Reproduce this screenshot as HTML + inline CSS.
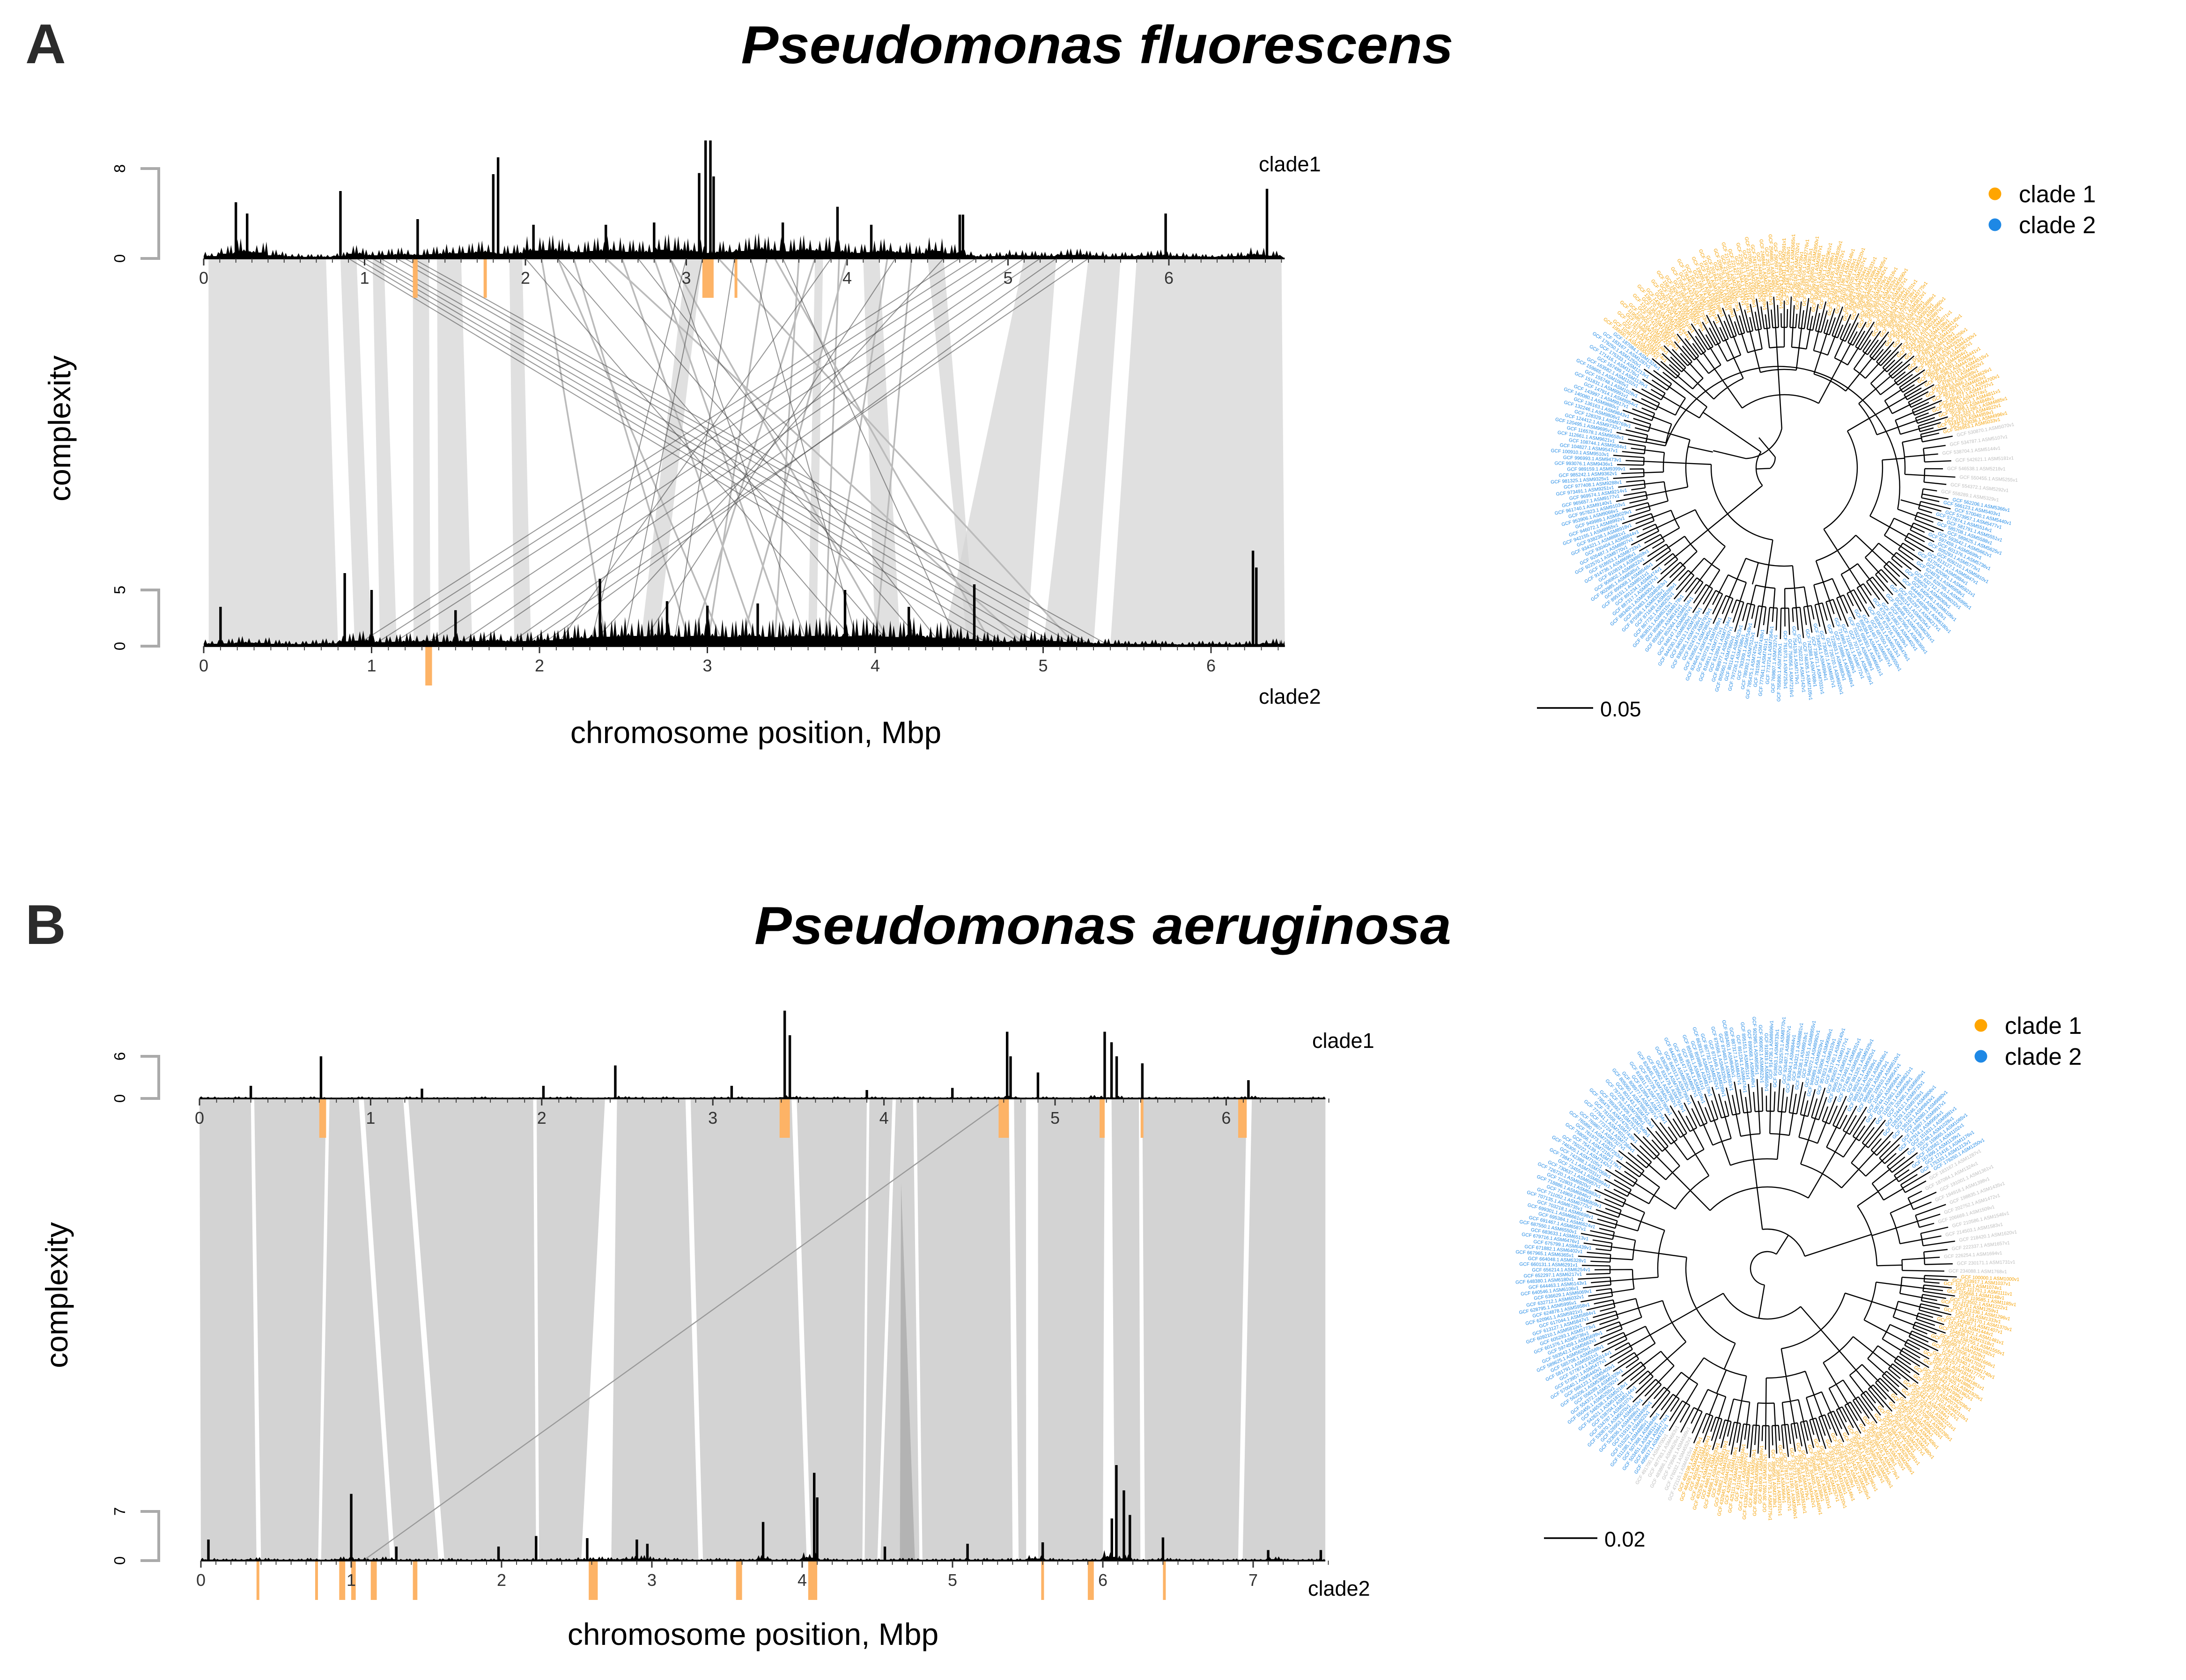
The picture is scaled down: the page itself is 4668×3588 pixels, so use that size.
<!DOCTYPE html>
<html><head><meta charset="utf-8"><style>
html,body{margin:0;padding:0;background:#fff}
svg{display:block}
text{font-family:"Liberation Sans",sans-serif}
</style></head><body>
<svg id="fig" xmlns="http://www.w3.org/2000/svg" width="4668" height="3588" viewBox="0 0 1556 1196">
<rect width="1556" height="1196" fill="#fff"/>
<text x="18" y="45" font-size="40" font-weight="bold" fill="#2b2b2b">A</text>
<text x="781" y="45" font-size="38" font-weight="bold" font-style="italic" text-anchor="middle" textLength="507" lengthAdjust="spacingAndGlyphs">Pseudomonas fluorescens</text>
<text x="18" y="672" font-size="40" font-weight="bold" fill="#2b2b2b">B</text>
<text x="785" y="672" font-size="38" font-weight="bold" font-style="italic" text-anchor="middle" textLength="496" lengthAdjust="spacingAndGlyphs">Pseudomonas aeruginosa</text>
<text transform="translate(50,305) rotate(-90)" font-size="22" text-anchor="middle">complexity</text>
<text x="538" y="529" font-size="22" text-anchor="middle">chromosome position, Mbp</text>
<text transform="translate(48,922) rotate(-90)" font-size="22" text-anchor="middle">complexity</text>
<text x="536" y="1171" font-size="22" text-anchor="middle">chromosome position, Mbp</text>
<text x="896" y="122" font-size="15">clade1</text>
<text x="896" y="501" font-size="15">clade2</text>
<text x="934" y="746" font-size="15">clade1</text>
<text x="931" y="1136" font-size="15">clade2</text>
<g id="links"></g><g id="tracks"></g><g id="trees"></g>
<g>
<circle cx="1420" cy="138" r="4.5" fill="#FFA500"/><text x="1437" y="144" font-size="17">clade 1</text>
<circle cx="1420" cy="160" r="4.5" fill="#1E88E5"/><text x="1437" y="166" font-size="17">clade 2</text></g>
<g>
<circle cx="1410" cy="730" r="4.5" fill="#FFA500"/><text x="1427" y="736" font-size="17">clade 1</text>
<circle cx="1410" cy="752" r="4.5" fill="#1E88E5"/><text x="1427" y="758" font-size="17">clade 2</text></g>
<g><line x1="1094" y1="504" x2="1134" y2="504" stroke="#000" stroke-width="1.2"/><text x="1139" y="510" font-size="15">0.05</text></g>
<g><line x1="1099" y1="1095" x2="1137" y2="1095" stroke="#000" stroke-width="1.2"/><text x="1142" y="1101" font-size="15">0.02</text></g>
</svg>
<script>
// ---------- data ----------
const aTopBg=[0.6,1.2,1.8,1.5,0.8,0.5,0.4,0.4,0.6,1.2,0.8,0.9,1.0,0.9,1.1,1.3,1.4,1.6,1.2,1.3,2.0,2.1,1.8,1.6,1.9,2.0,1.7,1.6,2.2,2.0,1.8,1.4,1.6,1.9,2.3,2.0,1.8,2.1,2.0,1.7,1.4,1.6,1.8,1.5,1.2,1.9,1.3,0.8,0.5,0.6,0.8,0.7,0.6,0.9,0.9,0.7,0.5,0.6,0.7,0.8,0.6,0.5,0.4,0.5,0.6,1.0,0.7];
const aTopPk=[[0.2,5],[0.27,4],[0.85,6],[1.33,3.5],[1.8,7.5],[1.83,9],[3.08,7.6],[3.12,10.5],[3.15,10.5],[3.17,7.3],[3.94,4.6],[4.7,3.9],[4.72,3.9],[5.98,4],[6.61,6.2],[2.05,3],[2.5,3],[2.8,3.2],[3.6,3.2],[4.15,3]];
const aBotBg=[0.6,0.7,0.9,0.8,0.6,0.5,0.6,0.7,1.2,1.4,1.0,1.1,1.2,1.3,1.1,1.2,1.3,1.4,1.2,1.3,1.5,1.8,2.0,2.3,2.4,2.6,2.5,2.7,2.4,2.6,2.5,2.3,2.6,2.4,2.3,2.5,2.6,2.4,2.5,2.7,2.4,2.3,2.6,2.2,2.0,1.8,1.3,1.1,1.2,1.4,1.3,1.1,0.9,0.7,0.6,0.5,0.6,0.5,0.4,0.5,0.5,0.4,0.5,0.7,0.6];
const aBotPk=[[0.84,6.5],[1.0,5],[0.1,3.5],[2.36,6],[2.76,4],[3.82,5],[4.59,5.5],[6.25,8.5],[6.27,7],[3.0,3.6],[3.3,3.8],[4.2,3.5],[1.5,3.2]];
const bTopBg=[0.3,0.2,0.3,0.2,0.2,0.2,0.3,0.2,0.2,0.3,0.2,0.2,0.3,0.2,0.2,0.2,0.3,0.2,0.2,0.2,0.3,0.3,0.2,0.2,0.4,0.3,0.2,0.3,0.2,0.2,0.3,0.3,0.2,0.2,0.5,0.3,0.2,0.3,0.2,0.3,0.2,0.2,0.3,0.2,0.2,0.3,0.3,0.4,0.2,0.3,0.2,0.2,0.5,0.4,0.2,0.3,0.2,0.2,0.2,0.3,0.3,0.4,0.2,0.2,0.2,0.3];
const bTopPk=[[0.3,1.8],[0.71,6],[1.3,1.4],[2.01,1.8],[2.43,4.7],[3.11,1.8],[3.42,12.5],[3.45,9],[3.9,1.2],[4.72,9.5],[4.74,6],[4.9,3.7],[5.29,9.5],[5.33,8],[5.36,6],[5.51,5],[6.13,2.6],[4.4,1.5]];
const bBotBg=[0.4,0.3,0.3,0.5,0.4,0.3,0.3,0.4,0.3,0.6,0.5,0.4,0.6,0.3,0.3,0.3,0.4,0.3,0.3,0.3,0.3,0.3,0.4,0.4,0.3,0.5,0.6,0.5,0.7,0.8,0.5,0.4,0.3,0.3,0.4,0.3,0.3,0.8,0.3,0.3,1.2,0.4,0.3,0.3,0.3,0.3,0.4,0.4,0.3,0.3,0.4,0.3,0.4,0.4,0.3,0.8,0.4,0.3,0.3,0.3,1.5,0.9,0.3,0.4,0.4,0.3,0.3,0.3,0.3,0.3,0.3,0.6,0.3,0.3,0.3];
const bBotPk=[[0.05,3],[1.0,9.5],[1.3,2],[1.98,2],[2.23,3.5],[2.57,3.2],[2.9,3],[2.97,2.4],[3.74,5.5],[4.08,12.5],[4.1,9],[4.55,2],[5.1,2.4],[5.6,2.6],[6.06,6],[6.09,13.6],[6.14,10],[6.18,6.5],[6.4,3.3],[7.1,1.5],[7.45,1.5]];
const aOrTop=[[1.3,1.33],[1.74,1.76],[3.1,3.17],[3.3,3.31]];
const aOrBot=[[1.32,1.36]];
const bOrTop=[[0.7,0.74],[3.39,3.45],[4.67,4.73],[5.26,5.29],[5.5,5.51],[6.07,6.12]];
const bOrBot=[[0.37,0.38],[0.76,0.77],[0.92,0.96],[1.0,1.03],[1.13,1.17],[1.41,1.44],[2.58,2.64],[3.56,3.6],[4.04,4.1],[5.59,5.6],[5.9,5.94],[6.4,6.41]];
const aBands=[[0.03,0.76,0.03,0.8],[0.85,0.95,0.9,1.0],[1.05,1.12,1.05,1.15],[1.3,1.4,1.25,1.35],[1.45,1.6,1.4,1.6],[1.9,1.98,1.85,1.95],[3.0,3.1,2.6,2.7],[3.8,3.85,3.6,3.65],[4.1,4.2,4.0,4.15],[4.5,4.6,4.55,4.6],[5.1,5.3,4.4,4.9],[5.5,5.7,5.0,5.3],[5.8,6.7,5.4,6.44]];
const aCross=[[0.9,4.7],[0.95,4.8],[1.0,4.9],[1.05,5.0],[1.1,5.1],[1.2,5.2],[1.25,5.3],[1.3,5.4],[2.0,3.9],[2.2,4.1],[2.4,4.3],[3.0,2.3],[3.1,2.5],[3.3,2.8],[3.4,3.9],[4.7,0.9],[4.8,1.0],[4.9,1.1],[5.0,1.3],[5.1,1.5],[5.2,1.6],[5.3,1.8],[5.4,2.0],[5.5,1.9],[4.6,2.3],[4.3,2.6],[3.9,2.1],[3.6,4.5],[2.7,4.4],[2.9,3.6]];
const aFaint=[[2.1,2.4],[2.3,2.9],[2.6,3.3],[2.8,3.5],[3.5,3.0],[3.7,3.4],[3.95,3.7],[4.4,4.0],[2.5,4.9],[3.2,5.2],[3.8,2.9],[4.0,3.2],[2.2,3.1],[2.9,4.1],[4.25,3.7],[3.55,4.7]];
const bGaps=[[0.3,0.37,0.02,0.03],[0.74,0.78,0.02,0.02],[0.93,1.26,0.03,0.03],[1.19,1.58,0.03,0.04],[1.95,2.23,0.02,0.02],[2.37,2.53,0.07,0.2],[2.84,3.31,0.03,0.03],[3.46,4.03,0.03,0.03],[4.05,4.5,0.02,0.02],[4.17,4.78,0.02,0.02],[4.73,5.4,0.03,0.04],[4.83,5.49,0.07,0.08],[5.29,6.0,0.04,0.08],[5.49,6.25,0.02,0.03],[6.12,6.9,0.03,0.03],[3.9,4.4,0.015,0.015]];
// ---------- helpers ----------
const NS='http://www.w3.org/2000/svg';
function mk(tag,attrs,parent){const e=document.createElementNS(NS,tag);for(const k in attrs)e.setAttribute(k,attrs[k]);parent.appendChild(e);return e;}
const links=document.getElementById('links'),tracks=document.getElementById('tracks'),trees=document.getElementById('trees');
function axis(x0,ppm){return m=>x0+m*ppm;}
const A={top:{x:axis(145,114.5),y:184,end:6.72,unit:8,ymax:8},bot:{x:axis(145,119.5),y:460,end:6.44,unit:8,ymax:5}};
const B={top:{x:axis(142,121.8),y:782,end:6.58,unit:5,ymax:6},bot:{x:axis(143,107),y:1111,end:7.48,unit:5,ymax:7}};
// links panel A
aBands.forEach(b=>{const p=mk('polygon',{points:`${A.top.x(b[0])},${A.top.y} ${A.top.x(b[1])},${A.top.y} ${A.bot.x(b[3])},${A.bot.y} ${A.bot.x(b[2])},${A.bot.y}`,fill:'#d3d3d3','fill-opacity':0.7},links);

});
aFaint.forEach(c=>{const l=mk('line',{x1:A.top.x(c[0]),y1:A.top.y,x2:A.bot.x(c[1]),y2:A.bot.y,stroke:'#bbb','stroke-width':1.2},links);

});
aCross.forEach(c=>{const l=mk('line',{x1:A.top.x(c[0]),y1:A.top.y,x2:A.bot.x(c[1]),y2:A.bot.y,stroke:'#444','stroke-opacity':0.55,'stroke-width':0.7},links);

});
// links panel B
const bBase=mk('polygon',{points:`${B.top.x(0)},${B.top.y} ${B.top.x(B.top.end)},${B.top.y} ${B.bot.x(B.bot.end)},${B.bot.y} ${B.bot.x(0)},${B.bot.y}`,fill:'#d3d3d3'},links);


const wedge=mk('polygon',{points:`${B.top.x(4.1)},${B.top.y+60} ${B.bot.x(4.65)},${B.bot.y} ${B.bot.x(4.75)},${B.bot.y}`,fill:'#b3b3b3'},links);


bGaps.forEach(g=>{const p=mk('polygon',{points:`${B.top.x(g[0])},${B.top.y} ${B.top.x(g[0]+g[2])},${B.top.y} ${B.bot.x(g[1]+g[3])},${B.bot.y} ${B.bot.x(g[1])},${B.bot.y}`,fill:'#fff'},links);

});
const diag=mk('line',{x1:B.top.x(4.72),y1:B.top.y,x2:B.bot.x(1.08),y2:B.bot.y,stroke:'#999','stroke-width':0.8},links);


// tracks
const spikeShape=[1,0.45,0.8,0.35,0.95];
function track(T,bg,pk,orng,label,ticksMaj){
 const g=mk('g',{},tracks);
 
 
 orng.forEach(o=>{const r=mk('rect',{x:T.x(o[0]),y:T.y,width:Math.max(2,T.x(o[1])-T.x(o[0])),height:28,fill:'#FDB366'},g);
 
 });
 let d=`M${T.x(0)},${T.y}`;
 bg.forEach((h,i)=>{const x0=T.x(i*0.1),x1=T.x(Math.min((i+1)*0.1,T.end));const n=spikeShape.length;
  for(let j=0;j<n;j++){const f=spikeShape[(j+i*2)%n];const xa=x0+(x1-x0)*j/n,xb=x0+(x1-x0)*(j+0.5)/n;d+=` L${xa},${T.y-h*T.unit*0.35} L${xb},${T.y-h*T.unit*f}`;}});
 d+=` L${T.x(T.end)},${T.y} Z`;
 const ar=mk('path',{d:d,fill:'#000'},g);
 
 
 pk.forEach(p=>{const r=mk('rect',{x:T.x(p[0])-0.9,y:T.y-p[1]*T.unit,width:1.8,height:p[1]*T.unit,fill:'#000'},g);
 
 });
 mk('line',{x1:T.x(0),y1:T.y,x2:T.x(T.end),y2:T.y,stroke:'#000','stroke-width':1.2},g);
 for(let k=0;k<=Math.round(T.end*10);k++){const m=k/10;const maj=k%10===0;mk('line',{x1:T.x(m),y1:T.y,x2:T.x(m),y2:T.y+(maj?5:3),stroke:'#333','stroke-width':maj?1:0.6},g);}
 for(let k=0;k<=ticksMaj;k++){const t=mk('text',{x:T.x(k),y:T.y+18,'font-size':12,'text-anchor':'middle',fill:'#333'},g);t.textContent=k;
 
 }
 const yt=T.y-T.ymax*T.unit, bx=113;
 mk('path',{d:`M100,${yt} L${bx},${yt} L${bx},${T.y} L100,${T.y}`,fill:'none',stroke:'#aaa','stroke-width':2},g);
 [[T.ymax,yt],[0,T.y]].forEach(v=>{const t=mk('text',{transform:`translate(89,${v[1]}) rotate(-90)`,'font-size':11,'text-anchor':'middle'},g);t.textContent=v[0];
 
 });
}
track(A.top,aTopBg,aTopPk,aOrTop,'track-a-clade1',6);
track(A.bot,aBotBg,aBotPk,aOrBot,'track-a-clade2',6);
track(B.top,bTopBg,bTopPk,bOrTop,'track-b-clade1',6);
track(B.bot,bBotBg,bBotPk,bOrBot,'track-b-clade2',7);
// trees
function tree(cx,cy,rTip,segs,radii,name){
 const g=mk('g',{},trees);
 
 
 const leaves=[];segs.forEach(s=>{let a0=s[0],a1=s[1];if(a1<a0)a1+=360;for(let i=0;i<s[3];i++)leaves.push({a:a0+(a1-a0)*(i+0.5)/s[3],c:s[2]});});
 const rad=a=>a*Math.PI/180;const P=(r,a)=>[cx+r*Math.cos(rad(a)),cy+r*Math.sin(rad(a))];
 const sizes=[3,8,20,50,120,1000];
 let nodes=leaves.map((l,i)=>({a:l.a,r:rTip-((i*7)%5)*3}));
 let paths='';
 leaves.forEach((l,i)=>{const rr=rTip-((i*7)%5)*3+3;const tt=P(rr,l.a);let ang=l.a%360;const flip=ang>90&&ang<270;const t=mk('text',{x:tt[0],y:tt[1],'font-size':3.4,fill:l.c,transform:`rotate(${flip?ang+180:ang},${tt[0]},${tt[1]})`,'text-anchor':flip?'end':'start','dominant-baseline':'middle'},g);
 t.textContent='GCF '+(100000+i*3917%900000)+'.1 ASM'+(1000+i*37%9000)+'v1';});
 radii.forEach((R,li)=>{const k=Math.max(2,Math.round(sizes[li]/(li?sizes[li-1]:1)));const nn=[];
  for(let i=0;i<nodes.length;i+=k){const ch=nodes.slice(i,i+k);const rr=R-((i*13)%3)*4;
   ch.forEach(c=>{const p1=P(rr,c.a),p2=P(c.r,c.a);paths+=`M${p1[0]},${p1[1]}L${p2[0]},${p2[1]}`;});
   const a0=ch[0].a,a1=ch[ch.length-1].a;if(ch.length>1){const p0=P(rr,a0),p1=P(rr,a1);paths+=`M${p0[0]},${p0[1]}A${rr},${rr} 0 ${a1-a0>180?1:0} 1 ${p1[0]},${p1[1]}`;}
   nn.push({a:(a0+a1)/2,r:rr});}
  nodes=nn;});
 mk('path',{d:paths,fill:'none',stroke:'#000','stroke-width':0.8},g);
}
const cOr='#F5A000',cBl='#1E88E5',cGr='#bdbdbd';
tree(1270,333,122,[[219,348,cOr,110],[348,10,cGr,8],[10,219,cBl,135]],[100,86,70,52,28,10],'tree-a');
tree(1258,903,135,[[2,112,cOr,95],[112,122,cGr,6],[122,330,cBl,150],[330,362,cGr,14]],[112,96,78,58,36,12],'tree-b');
</script>
</body></html>
